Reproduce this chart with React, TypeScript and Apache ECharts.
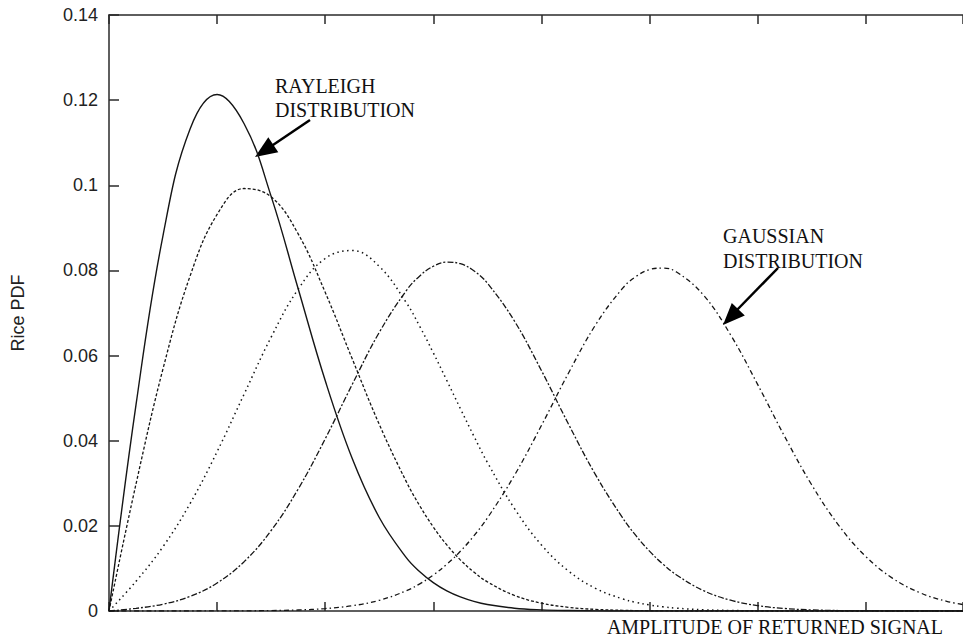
import React, { useEffect, useRef } from "react";
import * as echarts from "echarts";

// amplitude of returned signal (x axis units, tick every 1)
const amplitude = [
  0, 0.25, 0.5, 0.75, 1, 1.25, 1.5, 1.75, 2, 2.25, 2.5, 2.75, 2.875, 3, 3.125, 3.25,
  3.375, 3.5, 3.75, 4, 4.25, 4.5, 4.75, 4.875, 5, 5.125, 5.25, 5.5, 5.75, 6, 6.25,
  6.5, 6.75, 7, 7.25, 7.5, 7.75, 8,
];

// Rayleigh (solid)
const curveA = [
  0, 0.04846, 0.08825, 0.11323, 0.12131, 0.11446, 0.0974, 0.07569, 0.05413, 0.03581,
  0.02197, 0.01254, 0.00922, 0.00667, 0.00473, 0.00331, 0.00227, 0.00153, 0.00066,
  0.00027, 0.0001, 0.00004, 0, 0, 0, 0, 0, 0, 0, 0, 0, 0, 0, 0, 0, 0, 0, 0,
];
// second curve (peak ~0.099)
const curveB = [
  0, 0.02985, 0.05692, 0.07869, 0.09315, 0.09924, 0.09728, 0.08858, 0.07485, 0.05923,
  0.04384, 0.03039, 0.0247, 0.01973, 0.01552, 0.01201, 0.00915, 0.00685, 0.00367,
  0.00184, 0.00087, 0.00038, 0.00016, 0.0001, 0.00006, 0.00003, 0, 0, 0, 0, 0, 0, 0,
  0, 0, 0, 0, 0,
];
// third curve (dotted, peak ~0.085)
const curveC = [
  0, 0.00698, 0.01512, 0.02523, 0.03742, 0.05095, 0.06433, 0.0756, 0.0828, 0.08468,
  0.08094, 0.07244, 0.06683, 0.06065, 0.05415, 0.04756, 0.04109, 0.03492, 0.0241,
  0.01553, 0.0094, 0.00533, 0.00284, 0.00202, 0.00142, 0.00098, 0.00067, 0.00029,
  0.00012, 0.00005, 0, 0, 0, 0, 0, 0, 0, 0,
];
// fourth curve (peak ~0.082)
const curveD = [
  0, 0.00062, 0.00161, 0.00343, 0.00658, 0.01159, 0.01891, 0.02865, 0.04043, 0.05322,
  0.06544, 0.07525, 0.07871, 0.08098, 0.08195, 0.08159, 0.07992, 0.07701, 0.06813,
  0.05649, 0.04393, 0.03203, 0.02191, 0.01769, 0.01406, 0.011, 0.00847, 0.00478,
  0.00254, 0.00126, 0.00059, 0.00026, 0.00011, 0.00004, 0, 0, 0, 0,
];
// Gaussian-like (peak ~0.080)
const curveE = [
  0, 0, 0.000001, 0.000004, 0.000012, 0.000036, 0.000097, 0.00024, 0.00057, 0.00123,
  0.00251, 0.00475, 0.00638, 0.00844, 0.01097, 0.01402, 0.01764, 0.02183, 0.03185,
  0.04356, 0.05586, 0.06718, 0.07578, 0.07858, 0.0802, 0.08055, 0.07963, 0.07419,
  0.06487, 0.05324, 0.04101, 0.02965, 0.02013, 0.01282, 0.00767, 0.00431, 0.00227,
  0.00113,
];

const yTickLabels = ["0", "0.02", "0.04", "0.06", "0.08", "0.1", "0.12", "0.14"];

const INK = "#151515";

export default function App() {
  const ref = useRef<HTMLDivElement>(null);

  useEffect(() => {
    if (!ref.current) return;
    const chart = echarts.init(ref.current, undefined, { renderer: "svg" });

    const mk = (arr: number[]) => amplitude.map((x, i) => [x, arr[i]]);
    const lineSeries = (name: string, arr: number[], type: any, width: number) => ({
      name,
      type: "line",
      data: mk(arr),
      showSymbol: false,
      smooth: 0.4,
      clip: true,
      lineStyle: { color: INK, width, type },
      emphasis: { disabled: true },
    });

    const axisCommon = {
      type: "value",
      min: 0,
      max: 7.9,
      interval: 1,
      axisLine: { show: true, onZero: false, lineStyle: { color: "#2a2a2a", width: 1.5 } },
      axisTick: { show: true, inside: true, length: 9, lineStyle: { color: "#2a2a2a", width: 1.5 } },
      axisLabel: { show: false },
      splitLine: { show: false },
    };

    chart.setOption({
      animation: false,
      backgroundColor: "#ffffff",
      grid: { left: 109, right: 0, top: 15, bottom: 28, containLabel: false },
      xAxis: [
        { ...axisCommon, position: "bottom" },
        { ...axisCommon, position: "top" },
      ],
      yAxis: {
        type: "value",
        min: 0,
        max: 0.14,
        interval: 0.02,
        name: "Rice PDF",
        nameLocation: "middle",
        nameGap: 82,
        nameTextStyle: { fontFamily: "Liberation Sans", fontSize: 18, color: "#222" },
        axisLine: { show: true, lineStyle: { color: "#2a2a2a", width: 1.5 } },
        axisTick: { show: true, inside: true, length: 10, lineStyle: { color: "#2a2a2a", width: 1.5 } },
        axisLabel: {
          margin: 11,
          fontFamily: "Liberation Sans",
          fontSize: 18,
          color: "#222",
          formatter: (v: number) => {
            const idx = Math.round(v / 0.02);
            return yTickLabels[idx] ?? String(v);
          },
        },
        splitLine: { show: false },
      },
      series: [
        lineSeries("Rayleigh", curveA, "solid", 1.4),
        lineSeries("K1", curveB, [3, 2], 1.3),
        lineSeries("K2", curveC, [1.5, 3.5], 1.5),
        lineSeries("K3", curveD, [6, 2, 2, 2], 1.3),
        lineSeries("Gaussian", curveE, [5, 3, 1.5, 3], 1.3),
      ],
      graphic: [
        {
          type: "text",
          x: 943,
          y: 627,
          style: {
            text: "AMPLITUDE OF RETURNED SIGNAL",
            fontFamily: "Liberation Serif",
            fontSize: 20,
            fill: "#111",
            align: "right",
            verticalAlign: "middle",
          },
        },
        {
          type: "text",
          x: 275,
          y: 97.5,
          style: {
            text: "RAYLEIGH\nDISTRIBUTION",
            fontFamily: "Liberation Serif",
            fontSize: 20,
            lineHeight: 24,
            fill: "#111",
            align: "left",
            verticalAlign: "middle",
          },
        },
        {
          type: "text",
          x: 723,
          y: 248,
          style: {
            text: "GAUSSIAN\nDISTRIBUTION",
            fontFamily: "Liberation Serif",
            fontSize: 20,
            lineHeight: 25,
            fill: "#111",
            align: "left",
            verticalAlign: "middle",
          },
        },
        {
          type: "line",
          shape: { x1: 310, y1: 120, x2: 270, y2: 147 },
          style: { stroke: "#000", lineWidth: 2.5 },
        },
        {
          type: "polygon",
          shape: { points: [[255, 157], [278.3, 152.2], [268.3, 137.2]] },
          style: { fill: "#000" },
        },
        {
          type: "line",
          shape: { x1: 778, y1: 268, x2: 736, y2: 311 },
          style: { stroke: "#000", lineWidth: 2.5 },
        },
        {
          type: "polygon",
          shape: { points: [[723, 325], [744.8, 315.4], [731.8, 302.9]] },
          style: { fill: "#000" },
        },
      ],
    });

    return () => chart.dispose();
  }, []);

  return (
    <div
      ref={ref}
      style={{ position: "fixed", left: 0, top: 0, width: 963, height: 639, background: "#fff" }}
    />
  );
}
